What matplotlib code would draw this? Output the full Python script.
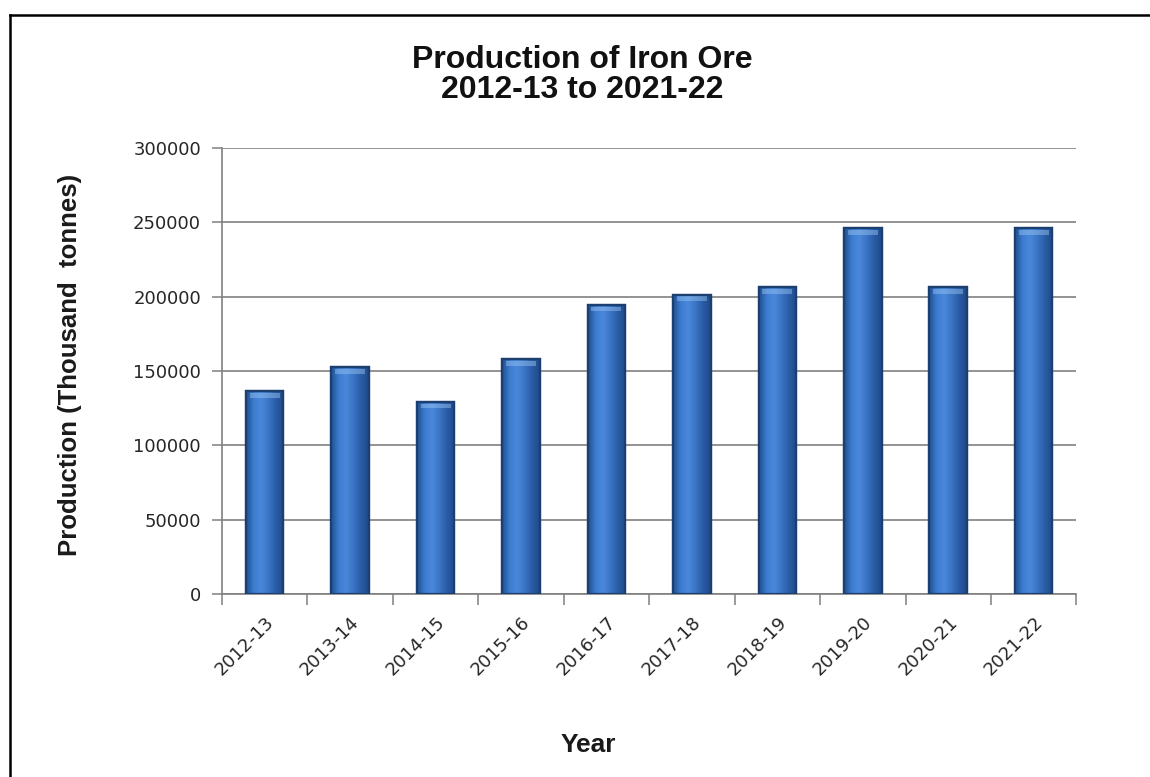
import numpy as np
import matplotlib
matplotlib.use("Agg")
import matplotlib.pyplot as plt
from matplotlib.colors import LinearSegmentedColormap
from matplotlib.lines import Line2D

# data
years = ["2012-13", "2013-14", "2014-15", "2015-16", "2016-17",
         "2017-18", "2018-19", "2019-20", "2020-21", "2021-22"]
production = [136617, 152433, 129314, 158110, 194583,
              201428, 206446, 246084, 206446, 246084]
yticks = [0, 50000, 100000, 150000, 200000, 250000, 300000]

fig = plt.figure(figsize=(11.5, 7.77), dpi=100)
ax = fig.add_axes([0.193, 0.2355, 0.743, 0.574])

x = np.arange(len(years))
bars = ax.bar(x, production, width=0.44, color="#3a74c4",
              edgecolor="#1c3f72", linewidth=1.6, zorder=3)

# horizontal shading on each bar, like the excel 3d look
grad = LinearSegmentedColormap.from_list(
    "bar", ["#21508f", "#3d7cd0", "#4a88da", "#3a74c4", "#2a5ca6", "#1f4a88"])
shade = np.linspace(0, 1, 64).reshape(1, -1)
for b in bars:
    x0, y0 = b.get_x(), b.get_y()
    w, h = b.get_width(), b.get_height()
    im = ax.imshow(shade, cmap=grad, aspect="auto", zorder=3.5,
                   extent=[x0, x0 + w, y0, y0 + h], interpolation="bicubic")
    im.set_clip_path(b)
    # soft light rim at the top of the bar
    ax.fill_between([x0 + w * 0.1, x0 + w * 0.9], y0 + h - 4500, y0 + h - 1300,
                    color="#9cc6f2", alpha=0.45, zorder=3.6, linewidth=0)
    ax.bar(x0 + w / 2, h, width=w, fill=False, edgecolor="#1c3f72",
           linewidth=1.6, zorder=4)

ax.set_xlim(-0.5, len(years) - 0.5)
ax.set_ylim(0, 300000)
ax.set_yticks(yticks)
ax.set_yticklabels([str(v) for v in yticks])
ax.yaxis.grid(True, color="#808080", linewidth=1.2, zorder=0)

ax.set_xticks(x)
ax.set_xticklabels(years, rotation=45, ha="right", rotation_mode="anchor")
ax.set_xticks(np.arange(-0.5, len(years)), minor=True)
ax.tick_params(axis="x", which="major", length=0, pad=14, labelsize=13,
               labelcolor="#262626")
ax.tick_params(axis="x", which="minor", length=8, width=1.1, color="#808080",
               direction="out")
ax.tick_params(axis="y", length=7, width=1.1, color="#808080", pad=8,
               labelsize=13, labelcolor="#262626")

for s in ["top", "right"]:
    ax.spines[s].set_visible(False)
for s in ["left", "bottom"]:
    ax.spines[s].set_color("#808080")
    ax.spines[s].set_linewidth(1.2)

ax.set_ylabel("Production (Thousand  tonnes)", fontsize=18.5, fontweight="bold",
              family="Liberation Sans", color="#1a1a1a")
ax.yaxis.set_label_coords(-0.178, 0.513)
ax.yaxis.label.set_va("center")
ax.set_xlabel("Year", fontsize=19, fontweight="bold",
              family="Liberation Sans", color="#1a1a1a")
ax.xaxis.set_label_coords(0.429, -0.339)
ax.xaxis.label.set_va("center")
fig.text(0.5065, 0.904, "Production of Iron Ore\n2012-13 to 2021-22",
         ha="center", va="center", fontsize=23, fontweight="bold",
         family="Liberation Sans", linespacing=1.0, color="#111111")

# outer frame of the chart (top and left edges are visible)
fig.add_artist(Line2D([10 / 1150, 1.0], [1 - 15 / 777, 1 - 15 / 777],
                      color="black", linewidth=1.8, transform=fig.transFigure))
fig.add_artist(Line2D([10 / 1150, 10 / 1150], [0.0, 1 - 15 / 777],
                      color="black", linewidth=1.8, transform=fig.transFigure))

fig.savefig("out.png", dpi=100)
